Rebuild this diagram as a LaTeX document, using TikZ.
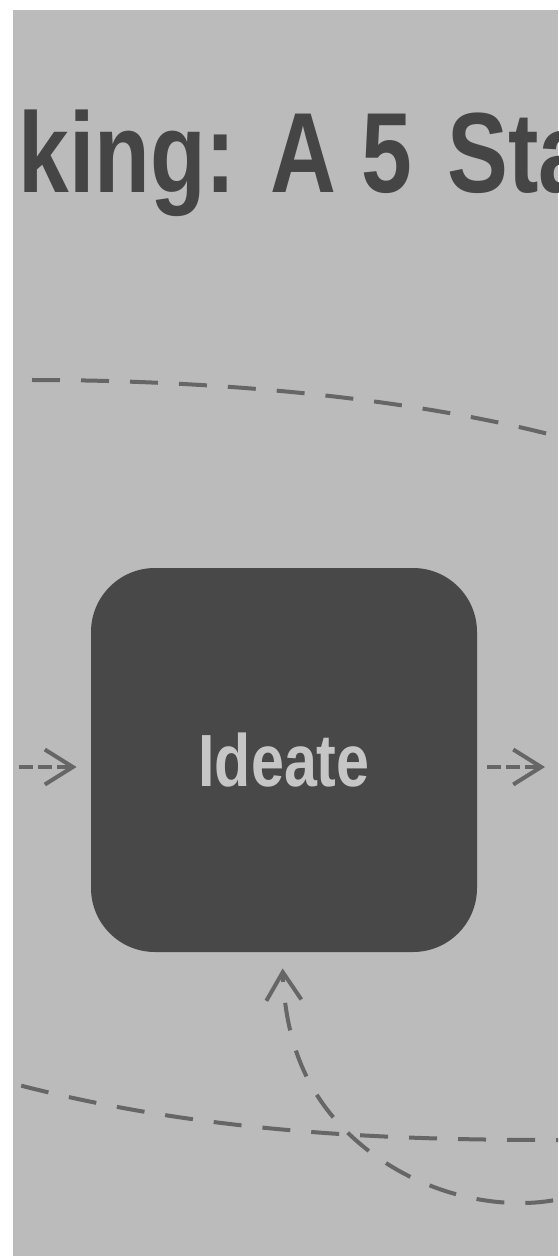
\documentclass[tikz,border=0pt]{standalone}
\usepackage{fontspec}
\newfontfamily\headfont{Liberation Sans}[FakeStretch=0.80]
\usetikzlibrary{arrows.meta}

\definecolor{bggray}{HTML}{BBBBBB}
\definecolor{boxgray}{HTML}{484848}
\definecolor{titlegray}{HTML}{454545}
\definecolor{labelgray}{HTML}{C6C6C6}
\definecolor{linegray}{HTML}{666666}

\begin{document}
\begin{tikzpicture}[x=0.5pt,y=-0.5pt,
  stage/.style={rectangle,rounded corners=32pt,fill=boxgray,text=labelgray,
    minimum width=193pt,minimum height=192pt,
    font=\headfont\bfseries\fontsize{37}{42}\selectfont},
  feedback/.style={draw=linegray,line width=2pt,dash pattern=on 14pt off 10.5pt},
  flow/.style={draw=linegray,line width=2pt,dash pattern=on 7pt off 2.5pt},
  barb/.style={-{Straight Barb[length=14pt,width=17.5pt]}}]
\useasboundingbox (0,0) rectangle (558,1256);
\fill[white] (0,0) rectangle (558,1256);
\fill[bggray] (13,10) rectangle (558,1256);
\clip (13,10) rectangle (558,1256);

\node[anchor=base west,inner sep=0pt,text=titlegray,
  font=\headfont\bfseries\fontsize{57}{62}\selectfont] (title) at (18,193)
  {king: A 5\hspace{5pt} Sta};

\node[stage] (ideate) at (284,760) {Ideate};

\coordinate (inL) at (19,767);
\coordinate (outR) at (545,767);
\draw[flow,barb,shorten >=7pt] (inL) -- (inL -| ideate.west);
\draw[flow,barb,shorten <=5pt] (ideate.east |- outR) -- (outR);

\coordinate (topA) at (32,380);
\coordinate (topB) at (560,437);
\draw[feedback] (topA) .. controls (200,380) and (400,395) .. (topB);

\coordinate (lowA) at (560,1140);
\coordinate (lowB) at (0,1080);
\draw[feedback,dash phase=12pt] (lowA) .. controls (400,1140) and (200,1135) .. (lowB);

\coordinate (uA) at (560,1199);
\draw[feedback,barb,dash phase=21pt,shorten >=8pt] (uA)
  .. controls (500,1212) and (410,1195) .. (345,1130)
  .. controls (300,1085) and (285,1030) .. ([xshift=-1pt]ideate.south);
\end{tikzpicture}
\end{document}
